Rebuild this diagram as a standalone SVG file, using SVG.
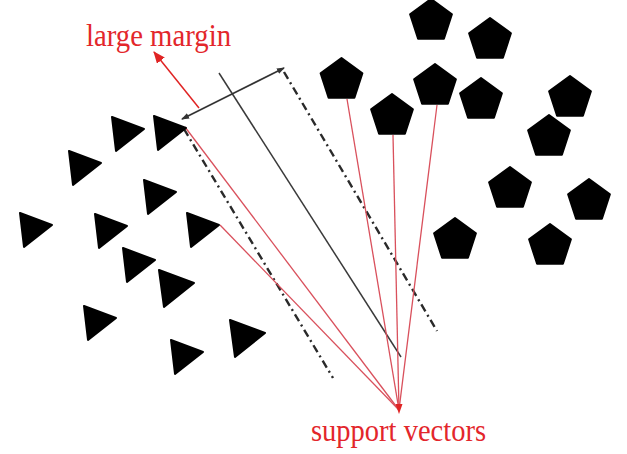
<svg xmlns="http://www.w3.org/2000/svg" xmlns:xlink="http://www.w3.org/1999/xlink" width="627" height="454" viewBox="0 0 627 454">
<style>
.lbl{font-family:"Liberation Serif","Times New Roman",serif;font-size:32px;fill:#e3262b;}
.shape{fill:#000;stroke:#000;stroke-width:2;stroke-linejoin:round;}
.sv{stroke:#d9505c;stroke-width:1.3;fill:none;}
.hyp{stroke:#3a3a3a;stroke-width:1.5;fill:none;}
.mrg{stroke:#2a2a2a;stroke-width:2.4;fill:none;stroke-dasharray:8 4 2 4;}
.brk{stroke:#333;stroke-width:1.6;fill:none;}
.arr{stroke:#e02424;stroke-width:1.5;fill:none;}
</style>
<defs>
<path id="tri" d="M0,0 L32,12 L4,34 Z"/>
<path id="tri2" d="M0,0 L35,13 L5,37 Z"/>
<path id="pent" d="M0,-22 L20.9,-6.8 L12.9,17.8 L-12.9,17.8 L-20.9,-6.8 Z"/>
<marker id="redhead" markerWidth="12" markerHeight="10" refX="11" refY="5" orient="auto" markerUnits="userSpaceOnUse">
<path d="M0,0 L12,5 L0,10 Z" fill="#e02424"/>
</marker>
<marker id="blkhead" markerWidth="8" markerHeight="6" refX="7" refY="3" orient="auto" markerUnits="userSpaceOnUse">
<path d="M0,0 L8,3 L0,6 Z" fill="#333"/>
</marker>
</defs>
<rect width="627" height="454" fill="#fff"/>

<g id="connectors">
<line class="mrg" x1="184" y1="129" x2="333" y2="378"/>
<line class="hyp" x1="219" y1="73" x2="401" y2="357"/>
<line class="mrg" x1="284" y1="72" x2="437" y2="331"/>
<line class="brk" x1="232" y1="94" x2="182" y2="119" marker-end="url(#blkhead)"/>
<line class="brk" x1="232" y1="94" x2="284" y2="68" marker-end="url(#blkhead)"/>
<line class="arr" x1="199" y1="108" x2="154" y2="52" marker-end="url(#redhead)"/>
<line class="sv" x1="185" y1="127" x2="399" y2="410"/>
<line class="sv" x1="220" y1="225" x2="399" y2="410"/>
<line class="sv" x1="347" y1="99" x2="399" y2="410"/>
<line class="sv" x1="393" y1="135" x2="399" y2="410"/>
<line class="sv" x1="437" y1="105" x2="399" y2="410"/>
<path d="M395.5,404 L402.5,404 L399,414 Z" fill="#e02424"/>
</g>

<g id="t1"><use xlink:href="#tri" class="shape" x="112" y="117"/></g>
<g id="t2"><use xlink:href="#tri" class="shape" x="154" y="116"/></g>
<g id="t3"><use xlink:href="#tri" class="shape" x="69" y="151"/></g>
<g id="t4"><use xlink:href="#tri" class="shape" x="144" y="180"/></g>
<g id="t5"><use xlink:href="#tri" class="shape" x="20" y="213"/></g>
<g id="t6"><use xlink:href="#tri" class="shape" x="95" y="214"/></g>
<g id="t7"><use xlink:href="#tri" class="shape" x="187" y="213"/></g>
<g id="t8"><use xlink:href="#tri" class="shape" x="123" y="248"/></g>
<g id="t9"><use xlink:href="#tri2" class="shape" x="159" y="270"/></g>
<g id="t10"><use xlink:href="#tri" class="shape" x="84" y="306"/></g>
<g id="t11"><use xlink:href="#tri" class="shape" x="171" y="340"/></g>
<g id="t12"><use xlink:href="#tri2" class="shape" x="230" y="320"/></g>

<g id="p1"><use xlink:href="#pent" class="shape" x="431" y="21"/></g>
<g id="p2"><use xlink:href="#pent" class="shape" x="490" y="40"/></g>
<g id="p3"><use xlink:href="#pent" class="shape" x="341.5" y="80"/></g>
<g id="p4"><use xlink:href="#pent" class="shape" x="392" y="116"/></g>
<g id="p5"><use xlink:href="#pent" class="shape" x="435" y="86"/></g>
<g id="p6"><use xlink:href="#pent" class="shape" x="481" y="100"/></g>
<g id="p7"><use xlink:href="#pent" class="shape" x="570" y="98"/></g>
<g id="p8"><use xlink:href="#pent" class="shape" x="549" y="137"/></g>
<g id="p9"><use xlink:href="#pent" class="shape" x="510" y="189"/></g>
<g id="p10"><use xlink:href="#pent" class="shape" x="589" y="201"/></g>
<g id="p11"><use xlink:href="#pent" class="shape" x="455" y="240"/></g>
<g id="p12"><use xlink:href="#pent" class="shape" x="550" y="246"/></g>

<g id="label-margin"><text class="lbl" x="86" y="45.5" textLength="145" lengthAdjust="spacingAndGlyphs">large margin</text></g>
<g id="label-sv"><text class="lbl" x="311" y="441" textLength="175" lengthAdjust="spacingAndGlyphs">support vectors</text></g>
</svg>
